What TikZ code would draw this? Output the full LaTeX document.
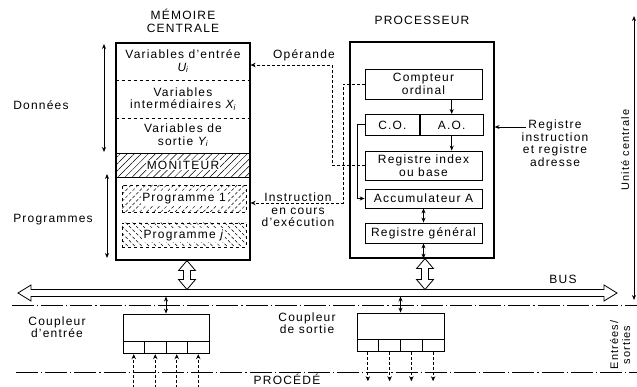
\documentclass[tikz,border=0pt]{standalone}
\usepackage{fontspec}
\setmainfont{Liberation Sans}[LetterSpace=10]
\usetikzlibrary{arrows.meta, positioning, calc, patterns.meta}

\begin{document}
\begin{tikzpicture}[
  x=1pt, y=-1pt,
  line width=0.8pt,
  font=\fontsize{12}{12.5}\selectfont,
  mainbox/.style={rectangle, draw, line width=1.2pt, inner sep=0pt},
  zone/.style={rectangle, minimum width=134pt, inner sep=1pt, align=center},
  regbox/.style={rectangle, draw, minimum width=117pt, inner sep=1pt, align=center},
  progbox/.style={rectangle, draw, dashed, minimum width=124pt, inner sep=0pt},
  cell/.style={rectangle, draw, minimum height=12pt, inner sep=0pt},
  txt/.style={align=center, inner sep=1pt},
  clear/.style={fill=white, inner sep=1pt},
  arrow/.style={-{Stealth[length=5pt,width=4pt]}},
  dblarrow/.style={{Stealth[length=5pt,width=4pt]}-{Stealth[length=5pt,width=4pt]}},
  dashedarrow/.style={dash pattern=on 3pt off 2pt, -{Stealth[length=5pt,width=4.5pt]}},
  dashdot/.style={dash pattern=on 22pt off 3pt on 1.2pt off 3pt},
  hollow/.style={draw, fill=white, line width=0.8pt}
]
\useasboundingbox (0,0) rectangle (637,387);

% Mémoire centrale
\node[txt] (tmem) at (183,21) {MÉMOIRE\\CENTRALE};
\node[mainbox, minimum width=134pt, minimum height=217pt] (mem) at (183,151.5) {};
\node[zone, minimum height=37pt, anchor=north] (vin) at (mem.north) {Variables d'entrée\\\textit{U\textsubscript{i}}};
\node[zone, minimum height=37pt, below=0pt of vin] (vint) {Variables\\intermédiaires \textit{X\textsubscript{i}}};
\node[zone, minimum height=34pt, below=0pt of vint] (vout) {Variables de\\sortie \textit{Y\textsubscript{i}}};
\node[zone, draw, minimum height=24pt, below=0pt of vout,
  pattern={Lines[angle=45, distance=5pt, line width=0.5pt]}] (monit) {};
\node[clear] at (monit) {MONITEUR};
\node[progbox, minimum height=27pt,
  pattern={Lines[angle=45, distance=5pt, line width=0.5pt]}] (prog1) at (184,198.5) {};
\node[clear] at (prog1) {Programme 1};
\node[progbox, minimum height=24pt,
  pattern={Lines[angle=-45, distance=5pt, line width=0.5pt]}] (progj) at (184,235) {};
\node[clear] at (progj) {Programme \textit{j}};
\draw[dashed] (vin.south west) -- (vin.south east);
\draw[dashed] (vint.south west) -- (vint.south east);

% Données / Programmes
\node[txt] (donnees) at (41,105) {Données};
\node[txt] (progs) at (53,220) {Programmes};
\coordinate (dtop) at (104,44);
\coordinate (dbot) at (104,152);
\coordinate (ptop) at (107,174);
\coordinate (pbot) at (107,258);
\draw[dblarrow] (dtop) -- (dbot);
\draw[dblarrow] (ptop) -- (pbot);

% Processeur
\node[txt] (tproc) at (422,20) {PROCESSEUR};
\node[mainbox, minimum width=144pt, minimum height=216pt] (proc) at (422,150) {};
\node[regbox, minimum height=30pt] (cptr) at (423.5,84) {Compteur\\ordinal};
\node[regbox, minimum width=54pt, minimum height=21pt, anchor=north west] (cop) at (365,114) {C.O.};
\node[regbox, minimum width=63pt, minimum height=21pt, right=0pt of cop] (aop) {A.O.};
\node[regbox, minimum height=29pt] (rib) at (423.5,165.5) {Registre index\\ou base};
\node[regbox, minimum height=19pt] (acc) at (423.5,198.5) {Accumulateur A};
\node[regbox, minimum height=20pt] (rgen) at (423.5,233) {Registre général};

\draw[arrow] (aop.north |- cptr.south) -- (aop.north);
\draw[arrow] (aop.south) -- (aop.south |- rib.north);
\draw[dblarrow] (acc.south) -- (rgen.north);
\draw[dblarrow] (rgen.south) -- (rgen.south |- proc.south);
\draw[arrow] (cop.west) -- ++(-8,0) |- (acc.west);

% Opérande / instruction
\node[txt] (operande) at (304,55) {Opérande};
\node[txt] (instr) at (298,210) {Instruction\\en cours\\d'exécution};
\coordinate (opk) at (332,65);
\coordinate (ink) at (343,203);
\draw[dashedarrow] (rib.west) -| (opk) -- (opk -| mem.east);
\draw[dashedarrow] (cptr.west) -| (ink) -- (ink -| mem.east);

% Registre instruction
\node[txt] (rlab) at (555,143) {Registre\\instruction\\et registre\\adresse};
\coordinate (regk) at (526,127);
\draw[arrow] (regk) -- (regk -| proc.east);

% Bus
\coordinate (busL) at (18,293);
\coordinate (busR) at (617,293);
\filldraw[hollow] (busL) -- ++(13,-8) -- ++(0,4.5) -- ($(busR)+(-13,-3.5)$) -- ++(0,-4.5)
  -- (busR) -- ++(-13,8) -- ++(0,-4.5) -- ($(busL)+(13,3.5)$) -- ++(0,4.5) -- cycle;
\node[txt] (buslab) at (563,279) {BUS};

\coordinate (m1) at ($(mem.south)+(4,0)$);
\coordinate (m2) at ($(m1 |- busL)+(0,-3.5)$);
\filldraw[hollow] (m1) -- ++(8.5,10) -- ++(-5,0) -- ($(m2)+(3.5,-10)$) -- ++(5,0) -- (m2)
  -- ++(-8.5,-10) -- ++(5,0) -- ($(m1)+(-3.5,10)$) -- ++(-5,0) -- cycle;
\coordinate (p1) at ($(proc.south)+(3,0)$);
\coordinate (p2) at ($(p1 |- busL)+(0,-3.5)$);
\filldraw[hollow] (p1) -- ++(8.5,10) -- ++(-5,0) -- ($(p2)+(3.5,-10)$) -- ++(5,0) -- (p2)
  -- ++(-8.5,-10) -- ++(5,0) -- ($(p1)+(-3.5,10)$) -- ++(-5,0) -- cycle;

% Limites
\coordinate (l1L) at (12,305);
\coordinate (l1R) at (637,305);
\coordinate (l2L) at (16,372);
\coordinate (l2R) at (637,372);
\draw[dashdot] (l1L) -- (l1R);
\draw[dashdot] (l2L) -- (l2R);

% Coupleurs
\node[txt] (lcin) at (57,327) {Coupleur\\d'entrée};
\node[rectangle, draw, minimum width=86pt, minimum height=27pt] (cin) at (166,327.5) {};
\coordinate (bin) at ($(cin.north |- busL)+(0,3.5)$);
\draw[dblarrow] (bin) -- (cin.north);
\foreach \i in {1,...,4} {
  \node[cell, minimum width=21.5pt, anchor=north west] (cin\i) at ($(cin.south west)+({(\i-1)*21.5},0)$) {};
  \coordinate (ein\i) at ($(cin\i.south)+(0,34)$);
  \draw[dashedarrow] (ein\i) -- (cin\i.south);
}

\node[txt] (lcout) at (307,323) {Coupleur\\de sortie};
\node[rectangle, draw, minimum width=87pt, minimum height=26pt] (cout) at (400.5,326) {};
\coordinate (bout) at ($(cout.north |- busL)+(0,3.5)$);
\draw[dblarrow] (bout) -- (cout.north);
\foreach \i in {1,...,4} {
  \node[cell, minimum width=21.75pt, anchor=north west] (cout\i) at ($(cout.south west)+({(\i-1)*21.75},0)$) {};
  \coordinate (eout\i) at ($(cout\i.south)+(0,29)$);
  \draw[dashedarrow] (cout\i.south) -- (eout\i);
}

\node[txt, anchor=base] (proc2) at (287,384.5) {PROCÉDÉ};

% Côté droit
\coordinate (uctop) at (634,16);
\coordinate (ucbot) at (634,300);
\draw[dblarrow] (uctop) -- (ucbot);
\node[txt, rotate=90, font=\fontsize{11}{12}\selectfont] (uc) at (625,150) {Unité centrale};
\node[txt, rotate=90, font=\fontsize{11}{12}\selectfont] (es) at (620,345) {Entrées/\\sorties};

\end{tikzpicture}
\end{document}
